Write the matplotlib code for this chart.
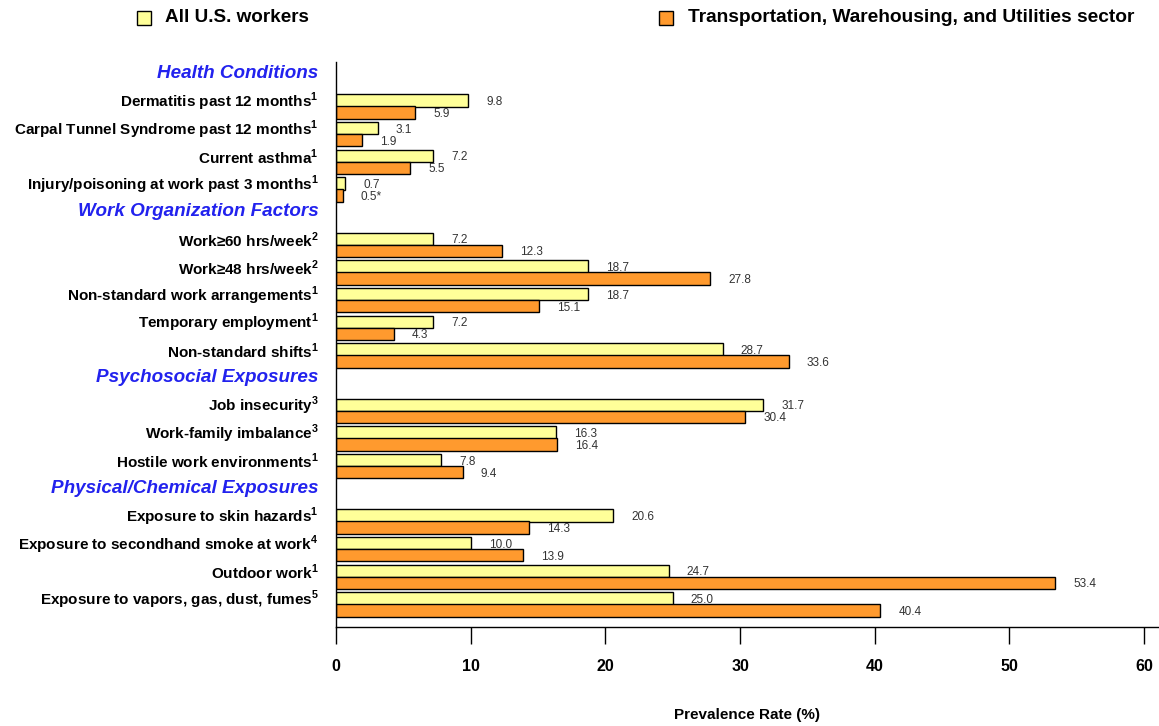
from matplotlib import pyplot as plt
from matplotlib.patches import Rectangle
import numpy as np

# data
groups = ['Health Conditions', 'Work Organization Factors',
          'Psychosocial Exposures', 'Physical/Chemical Exposures']
group_items = [
    ['Dermatitis past 12 months', 'Carpal Tunnel Syndrome past 12 months',
     'Current asthma', 'Injury/poisoning at work past 3 months'],
    ['Work≥60 hrs/week', 'Work≥48 hrs/week', 'Non-standard work arrangements',
     'Temporary employment', 'Non-standard shifts'],
    ['Job insecurity', 'Work-family imbalance', 'Hostile work environments'],
    ['Exposure to skin hazards', 'Exposure to secondhand smoke at work',
     'Outdoor work', 'Exposure to vapors, gas, dust, fumes'],
]
group_notes = [
    ['1', '1', '1', '1'],
    ['2', '2', '1', '1', '1'],
    ['3', '3', '1'],
    ['1', '4', '1', '5'],
]
all_us = [9.8, 3.1, 7.2, 0.7,
          7.2, 18.7, 18.7, 7.2, 28.7,
          31.7, 16.3, 7.8,
          20.6, 10.0, 24.7, 25.0]
twu = [5.9, 1.9, 5.5, 0.5,
       12.3, 27.8, 15.1, 4.3, 33.6,
       30.4, 16.4, 9.4,
       14.3, 13.9, 53.4, 40.4]
twu_labels = ['5.9', '1.9', '5.5', '0.5*',
              '12.3', '27.8', '15.1', '4.3', '33.6',
              '30.4', '16.4', '9.4',
              '14.3', '13.9', '53.4', '40.4']
series_names = ['All U.S. workers', 'Transportation, Warehousing, and Utilities sector']

YELLOW = '#ffff99'
ORANGE = '#ff9a2e'
FONT = ['Liberation Sans', 'DejaVu Sans']


def main():
    plt.rcParams['mathtext.fontset'] = 'custom'
    plt.rcParams['mathtext.bf'] = 'Liberation Sans:bold'
    plt.rcParams['mathtext.rm'] = 'Liberation Sans'

    fig = plt.figure(figsize=(11.59, 7.26), dpi=100)
    ax = fig.add_axes([336 / 1159, 1 - 627 / 726, 1 - 336 / 1159, (627 - 62) / 726])

    # one slot per header, one per item
    header_pos = []
    item_pos = []
    item_names = []
    s = 0
    for g, items, notes in zip(groups, group_items, group_notes):
        header_pos.append(s)
        s += 1
        for it, n in zip(items, notes):
            item_pos.append(s)
            item_names.append(it + r'$^{\mathbf{' + n + '}}$')
            s += 1
    item_pos = np.array(item_pos, dtype=float)

    h = 0.45
    off = 0.434
    ax.barh(item_pos, all_us, height=h, color=YELLOW, edgecolor='black', linewidth=1)
    ax.barh(item_pos + off, twu, height=h, color=ORANGE, edgecolor='black', linewidth=1)

    for y, v in zip(item_pos, all_us):
        ax.annotate(f'{v:.1f}', (v, y + 0.05), xytext=(13, 0), textcoords='offset points',
                    va='center', ha='left', fontsize=8.5, color='#333333', family=FONT)
    for y, v, lab in zip(item_pos, twu, twu_labels):
        ax.annotate(lab, (v, y + off + 0.05), xytext=(13, 0), textcoords='offset points',
                    va='center', ha='left', fontsize=8.5, color='#333333', family=FONT)

    ax.set_xlim(0, 61.1)
    ax.set_ylim(20.03, -0.39)

    ax.set_yticks([])
    for y, name in zip(item_pos, item_names):
        ax.text(-0.021, y + 0.05, name, transform=ax.get_yaxis_transform(), ha='right', va='center',
                fontsize=11, fontweight='bold', family=FONT, color='black')
    for y, g in zip(header_pos, groups):
        ax.text(-0.021, y + 0.03, g, transform=ax.get_yaxis_transform(), ha='right', va='center',
                fontsize=13.6, fontweight='bold', fontstyle='italic', family=FONT, color='#2222ee')

    ax.spines['top'].set_visible(False)
    ax.spines['right'].set_visible(False)
    ax.spines['left'].set_linewidth(1)
    ax.spines['bottom'].set_linewidth(1)

    ax.set_xticks(np.arange(0, 61, 10))
    ax.tick_params(axis='x', direction='out', length=12, width=1, pad=11)
    for t in ax.get_xticklabels():
        t.set_family(FONT)
        t.set_fontweight('bold')
        t.set_fontsize(11.5)
    ax.set_xlabel('Prevalence Rate (%)', fontsize=11, fontweight='bold', family=FONT, va='center')
    ax.xaxis.set_label_coords(0.5, -(715 - 627) / 565)

    # legend at top
    fig.patches.append(Rectangle((137 / 1159, 1 - 25 / 726), 14 / 1159, 14 / 726,
                                 transform=fig.transFigure, facecolor=YELLOW, edgecolor='black', lw=1))
    fig.text(165 / 1159, 1 - 18 / 726, series_names[0], ha='left', va='center',
             fontsize=13.6, fontweight='bold', family=FONT)
    fig.patches.append(Rectangle((659 / 1159, 1 - 25 / 726), 14 / 1159, 14 / 726,
                                 transform=fig.transFigure, facecolor=ORANGE, edgecolor='black', lw=1))
    fig.text(688 / 1159, 1 - 18 / 726, series_names[1], ha='left', va='center',
             fontsize=13.8, fontweight='bold', family=FONT)

    fig.savefig('out.png', dpi=100)


if __name__ == "__main__":
    main()
